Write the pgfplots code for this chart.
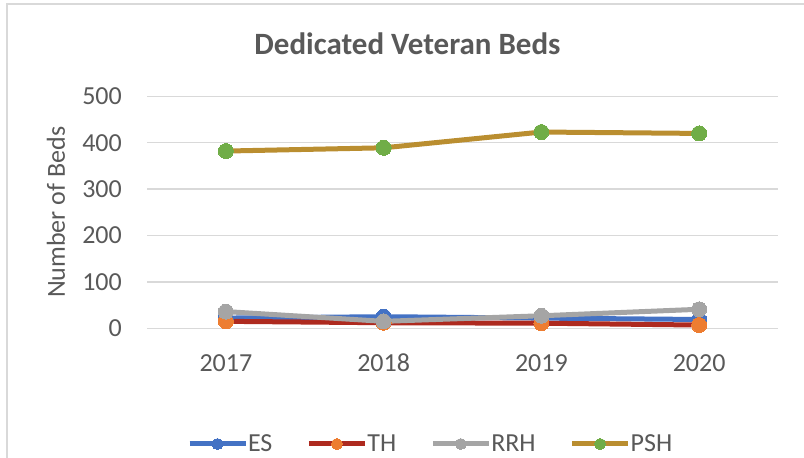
\documentclass[border=0pt]{standalone}
\usepackage{fontspec}
\setmainfont{Carlito}
\usepackage{pgfplots}
\pgfplotsset{compat=1.18}
\definecolor{gridc}{HTML}{D9D9D9}
\definecolor{txt}{HTML}{595959}
\definecolor{esc}{HTML}{4472C4}
\definecolor{thline}{HTML}{AE2A1F}
\definecolor{thmark}{HTML}{ED7D31}
\definecolor{rrhc}{HTML}{A5A5A5}
\definecolor{pshline}{HTML}{BA8E30}
\definecolor{pshmark}{HTML}{70AD47}
\begin{document}
\begin{tikzpicture}
\useasboundingbox (0,0) rectangle (804bp,458bp);
\draw[gridc, line width=1.3bp] (7bp,0bp) -- (7bp,454bp) -- (804bp,454bp);
\node[anchor=center, text=txt, font=\fontsize{31bp}{37bp}\selectfont\bfseries] at (407.5bp,414bp) {Dedicated Veteran Beds};
\begin{axis}[
  scale only axis,
  width=631bp, height=232bp,
  at={(147bp,129.7bp)}, anchor=south west,
  xmin=-0.5, xmax=3.5, ymin=0, ymax=500,
  xtick={0,1,2,3}, xticklabels={2017,2018,2019,2020},
  ytick={0,100,200,300,400,500},
  axis line style={draw=none},
  major tick length=0pt,
  tick style={draw=none},
  ymajorgrids, grid style={gridc, line width=1.3bp},
  /pgf/number format/assume math mode=true,
  tick label style={text=txt, font=\fontsize{26bp}{31bp}\selectfont},
  yticklabel style={anchor=east, inner sep=0pt, xshift=-25bp},
  xticklabel style={anchor=base, inner sep=0pt, yshift=-43.4bp},
  ylabel={Number of Beds},
  ylabel style={at={(axis description cs:-0.1442,0.5)}, anchor=center, text=txt, font=\fontsize{26bp}{31bp}\selectfont},
  clip=false,
  legend columns=4,
  legend style={draw=none, fill=none, at={(axis description cs:0.0634,-0.4987)}, anchor=west, inner sep=0pt, outer sep=0pt,
    font=\fontsize{26bp}{31bp}\selectfont, text=txt,
    nodes={inner sep=0pt},
    /tikz/every even column/.append style={column sep=34bp},
    /tikz/every odd column/.append style={column sep=0bp}},
  legend image code/.code={\draw[mark repeat=2,mark phase=2,#1,mark size=5.5bp] plot coordinates {(0bp,0bp) (28bp,0bp) (56bp,0bp)};},
]
\addplot[color=esc, line width=5bp, mark=*, mark size=7.5bp, mark options={fill=esc, draw=esc, line width=0pt}] coordinates {(0,22) (1,25) (2,22) (3,19)};
\addlegendentry{ES}
\addplot[color=thline, line width=5bp, mark=*, mark size=7.5bp, mark options={fill=thmark, draw=thmark, line width=0pt}] coordinates {(0,15) (1,12) (2,11) (3,7)};
\addlegendentry{TH}
\addplot[color=rrhc, line width=5bp, mark=*, mark size=7.5bp, mark options={fill=rrhc, draw=rrhc, line width=0pt}] coordinates {(0,36) (1,15) (2,27) (3,41)};
\addlegendentry{RRH}
\addplot[color=pshline, line width=5bp, mark=*, mark size=7.5bp, mark options={fill=pshmark, draw=pshmark, line width=0pt}] coordinates {(0,382) (1,389) (2,423) (3,420)};
\addlegendentry{PSH}
\end{axis}
\end{tikzpicture}
\end{document}
